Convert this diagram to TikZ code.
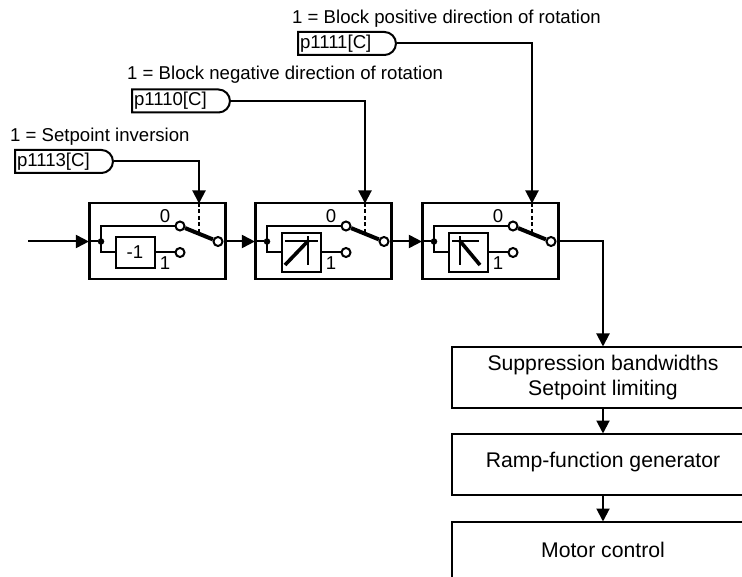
\documentclass[tikz,border=0pt]{standalone}
\usepackage{fontspec}
\setmainfont{Liberation Sans}
\usetikzlibrary{shapes.misc,arrows.meta}
\tikzset{
  x=1pt,y=-1pt,
  wire/.style={line width=2pt,draw=black},
  flow/.style={wire,-{Triangle[length=13pt,width=13pt]},shorten >=-0.5pt},
  txt/.style={inner sep=0pt,font=\fontsize{18.6}{21}\selectfont},
  tag/.style={draw=black,line width=2pt,rounded rectangle,rounded rectangle left arc=none,
    minimum height=23pt,inner xsep=2pt,inner ysep=0pt,anchor=west,text width=90pt,align=left,
    font=\fontsize{18.6}{21}\selectfont},
  swbox/.style={draw=black,line width=2.2pt,minimum width=136pt,minimum height=76pt,inner sep=0pt},
  inbox/.style={draw=black,line width=2pt,minimum width=39pt,inner sep=0pt},
  contact/.style={circle,draw=black,fill=white,line width=2pt,minimum size=9pt,inner sep=0pt},
  junction/.style={circle,fill=black,minimum size=6.5pt,inner sep=0pt},
  block/.style={draw=black,line width=2pt,minimum width=302pt,inner sep=0pt,align=center,
    font=\fontsize{21.2}{25}\selectfont},
}
% #1 prefix, #2 x offset, #3 inner box height, #4 inner box text, #5 symbol drawing
\newcommand{\swblock}[5]{%
\begin{scope}[shift={(#2,0)}]
  \node[swbox] (#1box) at (157.5,241) {};
  \node[junction] (#1j) at (101,241.5) {};
  \node[inbox,minimum height=#3] (#1in) at (135,252.5) {#4};
  \node[contact] (#1a) at (180,226) {};
  \node[contact] (#1b) at (180,252.5) {};
  \node[contact] (#1o) at (218,241.5) {};
  \node[txt] (#1zero) at (165,216) {0};
  \node[txt] (#1one) at (165,263) {1};
  \coordinate (#1top) at (199,203);
  \coordinate (#1arm) at (199,233.5);
  \draw[wire] (#1j.center) |- (#1a);
  \draw[wire] (#1j.center) |- (#1in.west |- #1b);
  \draw[wire] (#1in.east |- #1b) -- (#1b);
  \draw[line width=4pt] (#1a) -- (#1o);
  \draw[wire,dash pattern=on 4pt off 2.5pt] (#1top) -- (#1arm);
  #5
\end{scope}}
\begin{document}
\begin{tikzpicture}
\clip (0,0) rectangle (742,577);
\fill[white] (0,0) rectangle (742,577);
\coordinate (start) at (28,241.5);
\swblock{A}{0}{31pt}{\fontsize{18.6}{21}\selectfont -1}{}
\swblock{B}{166}{39pt}{}{%
  \draw[wire] (119,241) -- (152,241);
  \draw[wire] (142,236.5) -- (142,265);
  \draw[line width=3.6pt] (119,265) -- (142,241);}
\swblock{C}{333}{39pt}{}{%
  \draw[wire] (119,241) -- (146,241);
  \draw[wire] (127,236.5) -- (127,265);
  \draw[line width=3.6pt] (127,241) -- (147,265);}
% parameter tags
\node[tag] (t3) at (14,161.5) {p1113[C]};
\node[tag] (t2) at (131,101) {p1110[C]};
\node[tag] (t1) at (297,43.5) {p1111[C]};
\node[txt,anchor=base west] (l3) at (10,141.5) {1 = Setpoint inversion};
\node[txt,anchor=base west] (l2) at (127,80) {1 = Block negative direction of rotation};
\node[txt,anchor=base west] (l1) at (292,23.5) {1 = Block positive direction of rotation};
\draw[flow] (t3.east) -| (Atop);
\draw[flow] (t2.east) -| (Btop);
\draw[flow] (t1.east) -| (Ctop);
% chain
\draw[flow] (start) -- (Abox.west |- start);
\draw[wire] (Abox.west |- Aj) -- (Aj);
\draw[flow] (Ao) -- (Bbox.west |- Ao);
\draw[wire] (Bbox.west |- Bj) -- (Bj);
\draw[flow] (Bo) -- (Cbox.west |- Bo);
\draw[wire] (Cbox.west |- Cj) -- (Cj);
% right column
\node[block,minimum height=61pt] (s) at (603,377.5) {Suppression bandwidths\\Setpoint limiting};
\node[block,minimum height=61pt,text height=15pt,text depth=10pt] (r) at (603,464.5) {Ramp-function generator};
\node[block,minimum height=61pt,text height=15pt,text depth=6pt] (m) at (603,552.5) {Motor control};
\draw[flow] (Co) -| (s.north);
\draw[flow] (s) -- (r);
\draw[flow] (r) -- (m);
\end{tikzpicture}
\end{document}
